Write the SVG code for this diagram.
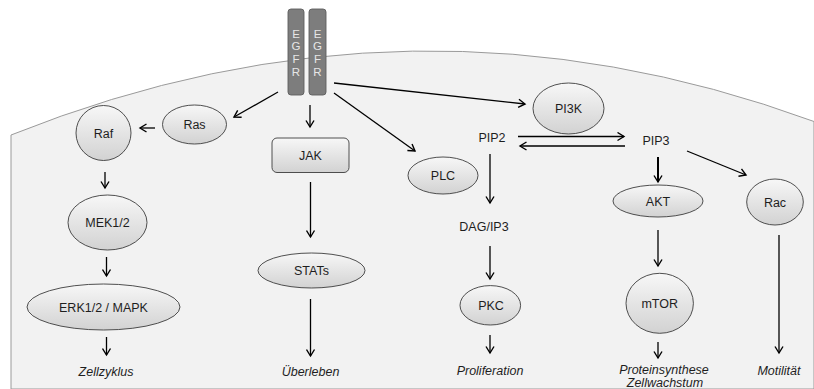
<svg xmlns="http://www.w3.org/2000/svg" width="814" height="389" viewBox="0 0 814 389">
<defs>
<linearGradient id="g" x1="0" y1="0" x2="0" y2="1">
<stop offset="0" stop-color="#f7f7f7"/>
<stop offset="1" stop-color="#d2d2d2"/>
</linearGradient>
<marker id="ah" viewBox="0 0 10 10" refX="8" refY="5" markerWidth="10" markerHeight="10" markerUnits="userSpaceOnUse" orient="auto">
<path d="M1.5,1 L8,5 L1.5,9" fill="none" stroke="#000" stroke-width="1.4"/>
</marker>
</defs>
<style>
.n{fill:url(#g);stroke:#3c3c3c;stroke-width:0.9}
.t{font-family:"Liberation Sans",Arial,sans-serif;font-size:12.5px;fill:#1e1e1e;text-anchor:middle}
.i{font-style:italic}
.c line{stroke:#000;stroke-width:1.3;marker-end:url(#ah)}
.r{fill:#7d7d7d;stroke:#5e5e5e;stroke-width:0.9}
.e{font-family:"Liberation Sans",Arial,sans-serif;font-size:11.5px;fill:#e6e6e6;text-anchor:middle}
</style>
<rect width="814" height="389" fill="#fff"/>
<path id="cell" d="M11,389 L11,135 Q412.5,-26 814,121.5 L814,389 Z" fill="#f2f2f2" stroke="#9a9a9a" stroke-width="1"/>
<g id="egfr1"><rect class="r" x="288" y="9" width="16" height="86" rx="3"/>
<text class="e" x="296" y="37.5">E</text><text class="e" x="296" y="49.5">G</text><text class="e" x="296" y="62.5">F</text><text class="e" x="296" y="75.5">R</text></g>
<g id="egfr2"><rect class="r" x="309" y="9" width="17" height="86" rx="3"/>
<text class="e" x="317.5" y="37.5">E</text><text class="e" x="317.5" y="49.5">G</text><text class="e" x="317.5" y="62.5">F</text><text class="e" x="317.5" y="75.5">R</text></g>
<g class="c" id="connectors">
<line x1="278" y1="92" x2="234" y2="117"/>
<line x1="310" y1="105" x2="310" y2="127"/>
<line x1="334" y1="93" x2="415" y2="151"/>
<line x1="334" y1="83" x2="525" y2="104"/>
<line x1="155" y1="128" x2="140" y2="128"/>
<line x1="105" y1="172" x2="105" y2="188"/>
<line x1="106.5" y1="257" x2="106.5" y2="276"/>
<line x1="106.5" y1="337" x2="106.5" y2="355"/>
<line x1="310.5" y1="182" x2="310.5" y2="237"/>
<line x1="310.5" y1="299" x2="310.5" y2="356"/>
<line x1="518" y1="136.5" x2="624" y2="136.5"/>
<line x1="625" y1="146" x2="520" y2="146"/>
<line x1="490" y1="154" x2="490" y2="203"/>
<line x1="490" y1="246" x2="490" y2="279"/>
<line x1="490" y1="335" x2="490" y2="353"/>
<line x1="658" y1="157" x2="658" y2="182" style="stroke-width:2"/>
<line x1="687" y1="151" x2="746" y2="175"/>
<line x1="658" y1="230" x2="658" y2="266"/>
<line x1="658" y1="342" x2="658" y2="358"/>
<line x1="779" y1="235" x2="779" y2="353"/>
</g>
<g id="ras"><ellipse class="n" cx="194.5" cy="124.5" rx="32" ry="19.5"/><text class="t" x="194.5" y="129">Ras</text></g>
<g id="raf"><ellipse class="n" cx="103.5" cy="133" rx="27.5" ry="27.5"/><text class="t" x="103.5" y="137.5">Raf</text></g>
<g id="mek"><ellipse class="n" cx="107.5" cy="222.5" rx="39.5" ry="27.5"/><text class="t" x="107.5" y="227">MEK1/2</text></g>
<g id="erk"><ellipse class="n" cx="103.5" cy="307" rx="76.5" ry="23"/><text class="t" x="103.5" y="311.5">ERK1/2 / MAPK</text></g>
<g id="zellzyklus"><text class="t i" x="106" y="376">Zellzyklus</text></g>
<g id="jak"><rect class="n" x="272" y="138" width="77" height="34.5" rx="5"/><text class="t" x="310.5" y="160">JAK</text></g>
<g id="stats"><ellipse class="n" cx="311.5" cy="270.5" rx="53.5" ry="17.5"/><text class="t" x="311.5" y="275">STATs</text></g>
<g id="ueberleben"><text class="t i" x="310.5" y="376">Überleben</text></g>
<g id="pi3k"><ellipse class="n" cx="568.5" cy="108.5" rx="35.5" ry="25.5"/><text class="t" x="568.5" y="113">PI3K</text></g>
<g id="pip2"><text class="t" x="492" y="142">PIP2</text></g>
<g id="pip3"><text class="t" x="656" y="144.5">PIP3</text></g>
<g id="plc"><ellipse class="n" cx="443" cy="175.5" rx="35" ry="18.5"/><text class="t" x="443" y="180">PLC</text></g>
<g id="dag"><text class="t" x="484" y="230.5">DAG/IP3</text></g>
<g id="pkc"><ellipse class="n" cx="490.3" cy="305.3" rx="30.3" ry="19.7"/><text class="t" x="491" y="310">PKC</text></g>
<g id="proliferation"><text class="t i" x="490" y="374.5">Proliferation</text></g>
<g id="akt"><ellipse class="n" cx="658" cy="201" rx="45" ry="16"/><text class="t" x="658" y="205.5">AKT</text></g>
<g id="rac"><ellipse class="n" cx="775" cy="202" rx="28.3" ry="23"/><text class="t" x="775" y="206.5">Rac</text></g>
<g id="mtor"><ellipse class="n" cx="659.7" cy="303.3" rx="33.7" ry="30"/><text class="t" x="659.7" y="308">mTOR</text></g>
<g id="protein"><text class="t i" x="664" y="373.5">Proteinsynthese</text><text class="t i" x="665" y="386.5">Zellwachstum</text></g>
<g id="motilitaet"><text class="t i" x="779" y="374.5">Motilität</text></g>
</svg>
